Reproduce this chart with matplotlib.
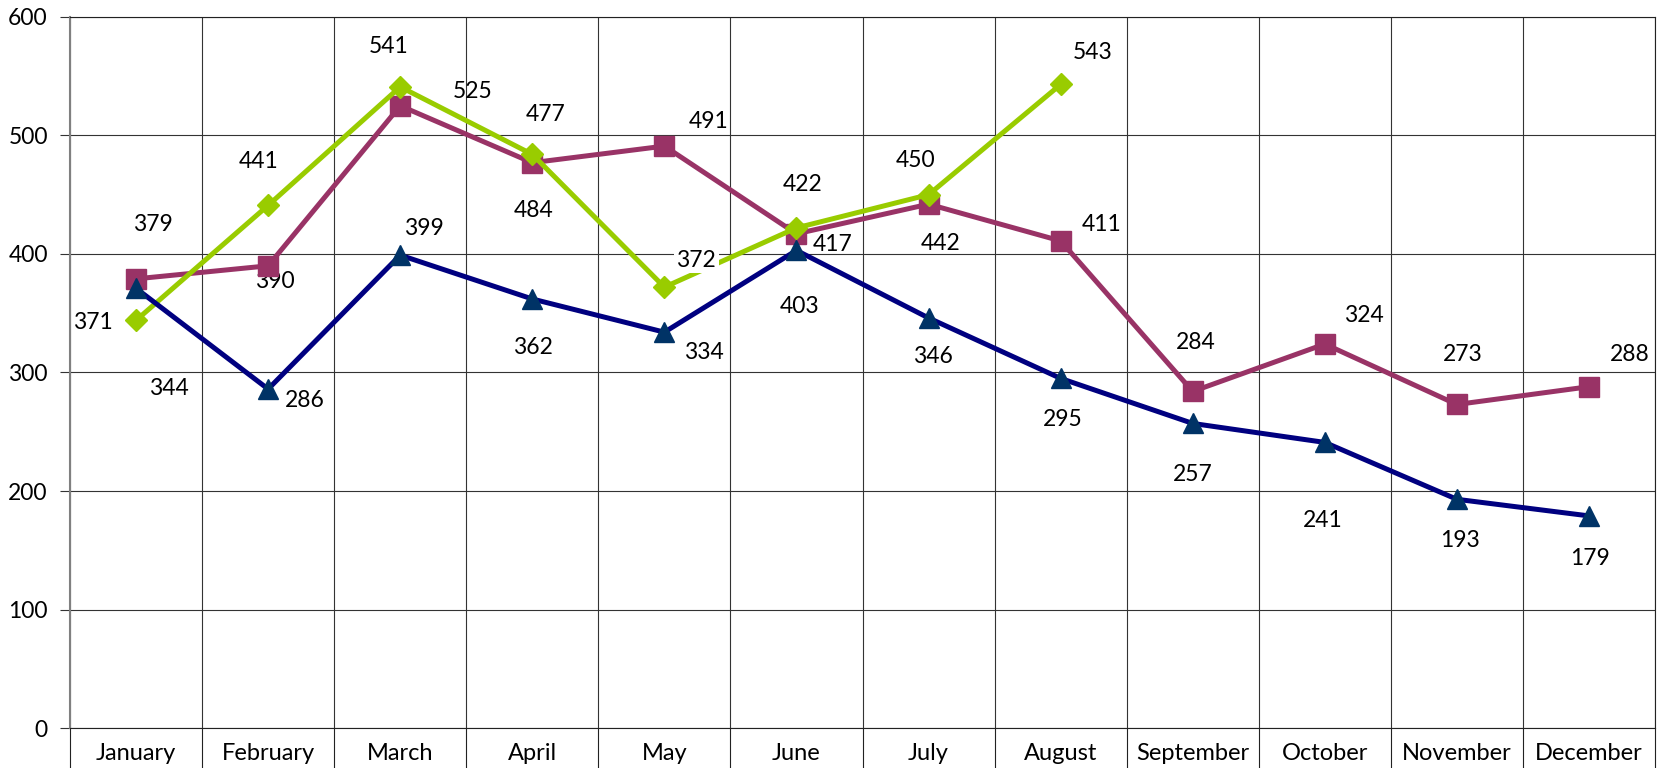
import matplotlib
matplotlib.use("Agg")
import matplotlib.pyplot as plt
import numpy as np

months = ["January", "February", "March", "April", "May", "June",
          "July", "August", "September", "October", "November", "December"]

navy_values = [371, 286, 399, 362, 334, 403, 346, 295, 257, 241, 193, 179]
purple_values = [379, 390, 525, 477, 491, 417, 442, 411, 284, 324, 273, 288]
green_values = [344, 441, 541, 484, 372, 422, 450, 543]

# label offsets in pixels (dx, dy with y going down like the picture)
navy_offsets = [(-43, 34), (37, 11), (24, -27), (1, 49), (40, 20), (3, 56),
                (4, 39), (2, 41), (0, 51), (-2, 78), (3, 41), (1, 43)]
purple_offsets = [(17, -54), (7, 16), (72, -14), (13, -48), (44, -25), (36, 11),
                  (12, 39), (41, -16), (3, -49), (39, -29), (6, -50), (41, -32)]
green_offsets = [(33, 68), (-10, -44), (-12, -40), (1, 56), (32, -27), (6, -43),
                 (-13, -34), (32, -32)]

plt.rcParams['font.family'] = ['Lato', 'DejaVu Sans']


def add_labels(ax, values, offsets, boxed):
    """
    Write the value next to every point of a series
    """
    for i, (v, (dx, dy)) in enumerate(zip(values, offsets)):
        kw = {}
        if boxed:
            kw["bbox"] = dict(boxstyle="square,pad=0.1", fc="white", ec="none")
        ax.annotate(str(v), (i, v), xytext=(dx, -dy), textcoords="offset pixels",
                    ha="center", va="center", fontsize=16.5, color="black",
                    zorder=10 if boxed else 1, **kw)


def main():
    fig = plt.figure(figsize=(16.59, 7.68), dpi=100)
    ax = fig.add_axes([0.0422, 0.052, 0.9554, 0.926])

    x = np.arange(len(months))
    ax.plot(x, purple_values, color="#993366", lw=3.6, marker="s",
            markersize=14, markerfacecolor="#993366", markeredgecolor="#993366",
            zorder=3)
    ax.plot(x[:len(green_values)], green_values, color="#99CC00", lw=3.6,
            marker="D", markersize=11, markerfacecolor="#99CC00",
            markeredgecolor="#99CC00", zorder=4)
    ax.plot(x, navy_values, color="#000080", lw=3.6, marker="^",
            markersize=15, markerfacecolor="#003366", markeredgecolor="#003366",
            zorder=5)

    add_labels(ax, purple_values, purple_offsets, False)
    add_labels(ax, navy_values, navy_offsets, False)
    add_labels(ax, green_values, green_offsets, True)

    ax.set_xlim(-0.5, 11.5)
    ax.set_ylim(0, 600)
    ax.set_yticks(range(0, 601, 100))
    ax.tick_params(axis="y", labelsize=16.5, length=7, width=0.8,
                   color="#333333", pad=9)

    ax.set_xticks(np.arange(-0.5, 12, 1))
    ax.set_xticklabels([])
    ax.set_xticks(x, minor=True)
    ax.set_xticklabels(months, minor=True)
    ax.tick_params(axis="x", which="major", length=29, width=0.8,
                   color="#222222")
    ax.tick_params(axis="x", which="minor", length=0, labelsize=17, pad=11)

    ax.grid(True, which="major", color="#333333", lw=0.8, zorder=0)
    ax.set_axisbelow(True)
    for side in ["top", "right", "bottom"]:
        ax.spines[side].set_color("#222222")
        ax.spines[side].set_linewidth(0.8)
    ax.spines["left"].set_color("#808080")
    ax.spines["left"].set_linewidth(1.5)

    fig.savefig("out.png", dpi=100)


if __name__ == "__main__":
    main()
